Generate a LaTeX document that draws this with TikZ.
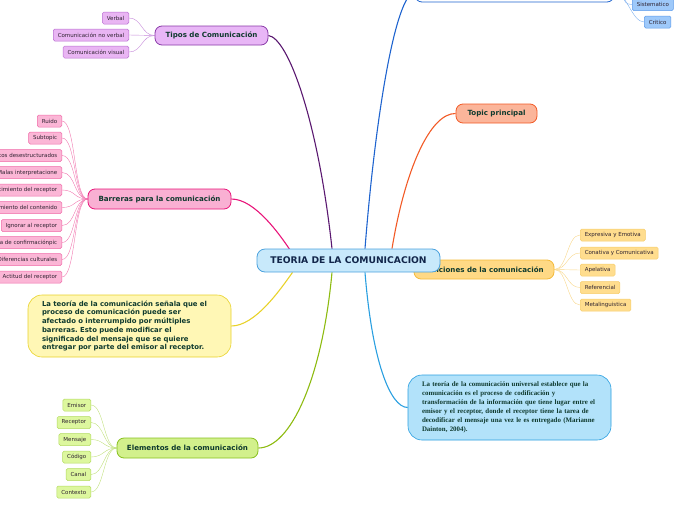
\documentclass[tikz,border=0pt]{standalone}
\usepackage{fontspec}
\setmainfont{DejaVu Sans}
\newfontfamily\notefont{Liberation Serif}
\usetikzlibrary{
	positioning,
	calc,
	backgrounds
}
\frenchspacing

\definecolor{txtdark}{HTML}{0F3A2E}
\definecolor{txtnavy}{HTML}{12264A}
\definecolor{txtgray}{HTML}{2E2230}
\definecolor{centfill}{HTML}{C8E9FB}
\definecolor{centline}{HTML}{4BA2DE}
\definecolor{purpline}{HTML}{5A1870}
\definecolor{purpfill}{HTML}{E8B6F6}
\definecolor{purpedge}{HTML}{8A3AA8}
\definecolor{purpsub}{HTML}{E9B5F3}
\definecolor{purpsubedge}{HTML}{B86DD0}
\definecolor{pinkline}{HTML}{E8157A}
\definecolor{pinkfill}{HTML}{F9B0D3}
\definecolor{pinksub}{HTML}{FBB6D6}
\definecolor{pinksubedge}{HTML}{F06AA8}
\definecolor{yellline}{HTML}{E8D22A}
\definecolor{yellfill}{HTML}{FFF7B5}
\definecolor{greenline}{HTML}{8DBB10}
\definecolor{greenfill}{HTML}{D2F08C}
\definecolor{greenedge}{HTML}{88C01E}
\definecolor{greensub}{HTML}{DDF79E}
\definecolor{greensubedge}{HTML}{B2DA5E}
\definecolor{skyline}{HTML}{2A9FE0}
\definecolor{skyfill}{HTML}{B2E2FA}
\definecolor{goldfill}{HTML}{FFD985}
\definecolor{goldedge}{HTML}{F4BA3A}
\definecolor{goldsub}{HTML}{FFDD8E}
\definecolor{goldsubedge}{HTML}{F6CC6A}
\definecolor{orangeline}{HTML}{F25A26}
\definecolor{orangefill}{HTML}{FBB59A}
\definecolor{blueline}{HTML}{1F64CF}
\definecolor{bluesub}{HTML}{9EC9FA}
\definecolor{bluesubedge}{HTML}{5C9BEA}

\begin{document}
\begin{tikzpicture}[
			x=1pt, y=-1pt,
			font=\fontsize{5.5}{6.5}\selectfont,
			topic/.style={draw, rounded corners=7pt, line width=0.8pt, minimum height=19pt, inner sep=0pt, align=center, font=\fontsize{7.1}{8.5}\selectfont\bfseries, text=txtdark},
			sub/.style={draw, rounded corners=1.5pt, line width=0.5pt, minimum height=12pt, inner xsep=4.5pt, inner ysep=0pt, text=txtgray},
			note/.style={draw, rounded corners=14pt, line width=0.6pt, inner xsep=14pt, text width=175pt, align=left, text=txtdark},
			link/.style={line width=1.1pt},
			twig/.style={line width=0.4pt}
		]

		\useasboundingbox (0,0) rectangle (696,520);

		% ramas principales
		\node[topic, fill=purpfill, draw=purpedge, minimum width=113pt] (tipos) at (211.5,35.5) {Tipos de Comunicación};
		\node[topic, fill=pinkfill, draw=pinkline, minimum width=143pt, minimum height=20pt] (barreras) at (159.5,199) {Barreras para la comunicación};
		\node[topic, fill=greenfill, draw=greenedge, minimum width=141pt, minimum height=20pt] (elementos) at (187.5,448) {Elementos de la comunicación};
		\node[topic, fill=goldfill, draw=goldedge, minimum width=140pt] (funciones) at (484,269.5) {Funciones de la comunicación};
		\node[topic, fill=orangefill, draw=orangeline, minimum width=81pt] (principal) at (496.5,113.5) {Topic principal};
		\node[topic, fill=white, draw=blueline, minimum width=199pt, minimum height=20pt] (arriba) at (514.5,-8) {};

		\node[note, fill=yellfill, draw=yellline, minimum height=62pt, font=\fontsize{6.9}{8.7}\selectfont\bfseries] (notabarrera) at (129.5,326)
			{La teoría de la comunicación señala que el\\ proceso de comunicación puede ser\\ afectado o interrumpido por múltiples\\ barreras. Esto puede modificar el\\ significado del mensaje que se quiere\\ entregar por parte del emisor al receptor.};
		\node[note, fill=skyfill, draw=skyline, minimum height=65pt, font=\notefont\fontsize{6.9}{9}\selectfont\bfseries] (notateoria) at (509.5,407.5)
			{La teoría de la comunicación universal establece que la\\ comunicación es el proceso de codificación y\\ transformación de la información que tiene lugar entre el\\ emisor y el receptor, donde el receptor tiene la tarea de\\ decodificar el mensaje una vez le es entregado (Marianne\\ Dainton, 2004).};

		% nodo central
		\node[draw=centline, fill=centfill, rounded corners=8pt, line width=0.8pt, minimum width=183pt, minimum height=23pt, inner sep=0pt, font=\fontsize{9.2}{11}\selectfont\bfseries, text=txtnavy] (central) at (348.5,260.5) {TEORIA DE LA COMUNICACION};

		% subtemas
		\node[sub, fill=purpsub, draw=purpsubedge, anchor=east] (verbal) at (129,18) {Verbal};
		\node[sub, fill=purpsub, draw=purpsubedge, anchor=east] (noverbal) at (129,35) {Comunicación no verbal};
		\node[sub, fill=purpsub, draw=purpsubedge, anchor=east] (visual) at (129,52) {Comunicación visual};

		\node[sub, fill=pinksub, draw=pinksubedge, anchor=east] (ruido) at (62,121) {Ruido};
		\node[sub, fill=pinksub, draw=pinksubedge, anchor=east] (subtopic) at (62,138) {Subtopic};
		\node[sub, fill=pinksub, draw=pinksubedge, anchor=east] (argumentos) at (62,155.5) {Argumentos desestructurados};
		\node[sub, fill=pinksub, draw=pinksubedge, anchor=east] (malas) at (62,172.5) {Malas interpretacione};
		\node[sub, fill=pinksub, draw=pinksubedge, anchor=east] (desreceptor) at (62,190) {Desconocimiento del receptor};
		\node[sub, fill=pinksub, draw=pinksubedge, anchor=east] (descontenido) at (62,207.5) {Desconocimiento del contenido};
		\node[sub, fill=pinksub, draw=pinksubedge, anchor=east] (ignorar) at (62,225.5) {Ignorar al receptor};
		\node[sub, fill=pinksub, draw=pinksubedge, anchor=east] (falta) at (62,242.5) {Falta de confirmaciónpic};
		\node[sub, fill=pinksub, draw=pinksubedge, anchor=east] (diferencias) at (62,259.5) {Diferencias culturales};
		\node[sub, fill=pinksub, draw=pinksubedge, anchor=east] (actitud) at (62,277) {Actitud del receptor};

		\node[sub, fill=greensub, draw=greensubedge, anchor=east] (emisor) at (91,405) {Emisor};
		\node[sub, fill=greensub, draw=greensubedge, anchor=east] (receptor) at (91,422.5) {Receptor};
		\node[sub, fill=greensub, draw=greensubedge, anchor=east] (mensaje) at (91,439.5) {Mensaje};
		\node[sub, fill=greensub, draw=greensubedge, anchor=east] (codigo) at (91,457) {Código};
		\node[sub, fill=greensub, draw=greensubedge, anchor=east] (canal) at (91,474.5) {Canal};
		\node[sub, fill=greensub, draw=greensubedge, anchor=east] (contexto) at (91,492) {Contexto};

		\node[sub, fill=goldsub, draw=goldsubedge, anchor=west] (expresiva) at (580,235) {Expresiva y Emotiva};
		\node[sub, fill=goldsub, draw=goldsubedge, anchor=west] (conativa) at (580,253) {Conativa y Comunicativa};
		\node[sub, fill=goldsub, draw=goldsubedge, anchor=west] (apelativa) at (580,270) {Apelativa};
		\node[sub, fill=goldsub, draw=goldsubedge, anchor=west] (referencial) at (580,287.5) {Referencial};
		\node[sub, fill=goldsub, draw=goldsubedge, anchor=west] (metaling) at (580,305) {Metalinguistica};

		\node[sub, fill=bluesub, draw=bluesubedge, anchor=west] (sistematico) at (632,4.5) {Sistematico};
		\node[sub, fill=bluesub, draw=bluesubedge, anchor=west] (critico) at (644,22) {Critico};

		% conectores
		\begin{scope}[on background layer]
			\draw[link, purpline] ([xshift=-16.5pt]central.north) .. controls (318,120) and (288,38) .. (tipos.east);
			\draw[link, blueline] ([xshift=16.5pt]central.north) .. controls (375,120) and (395,-5) .. (arriba.west);
			\draw[link, orangeline] ([xshift=43.5pt]central.north) .. controls (405,170) and (430,113) .. (principal.west);
			\draw[link, pinkline] ([xshift=-58pt,yshift=-2pt]central.north) .. controls (280,235) and (255,199) .. (barreras.east);
			\draw[link, yellline] ([xshift=-56pt]central.south) .. controls (280,290) and (255,326) .. (notabarrera.east);
			\draw[link, greenline] ([xshift=-16.5pt]central.south) .. controls (322,380) and (290,448) .. (elementos.east);
			\draw[link, skyline] ([xshift=16.5pt]central.south) .. controls (372,360) and (390,407.5) .. (notateoria.west);

			\foreach \hijo in {verbal, noverbal, visual}
				\draw[twig, purpsubedge!80] (tipos.west) .. controls +(-13,0) and +(13,0) .. (\hijo.east);
			\foreach \hijo in {ruido, subtopic, argumentos, malas, desreceptor, descontenido, ignorar, falta, diferencias, actitud}
				\draw[twig, pinksubedge!90] (barreras.west) .. controls +(-14,0) and +(14,0) .. (\hijo.east);
			\foreach \hijo in {emisor, receptor, mensaje, codigo, canal, contexto}
				\draw[twig, greensubedge!80] (elementos.west) .. controls +(-13,0) and +(13,0) .. (\hijo.east);
			\foreach \hijo in {expresiva, conativa, apelativa, referencial, metaling}
				\draw[twig, goldsubedge!80] (funciones.east) .. controls +(13,0) and +(-13,0) .. (\hijo.west);
			\foreach \hijo in {sistematico, critico}
				\draw[twig, bluesubedge!80] (arriba.east) .. controls +(12,0) and +(-12,0) .. (\hijo.west);
		\end{scope}
	\end{tikzpicture}
\end{document}
